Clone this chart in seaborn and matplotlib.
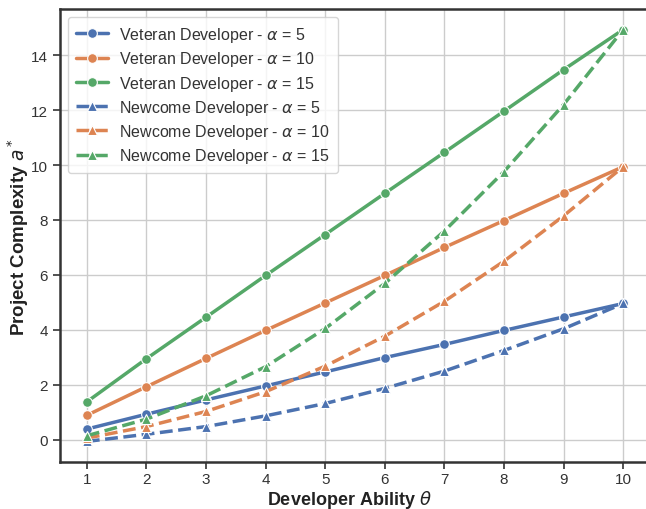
import matplotlib
matplotlib.use("Agg")
import matplotlib.pyplot as plt
import seaborn as sns
import pandas as pd

# Developer ability levels
theta = [1, 2, 3, 4, 5, 6, 7, 8, 9, 10]
alphas = [5, 10, 15]

# Optimal project complexity for veteran developers
veteran_a5 = [0.39, 0.93, 1.45, 1.96, 2.47, 2.99, 3.47, 3.98, 4.47, 4.96]
veteran_a10 = [0.89, 1.93, 2.96, 3.98, 4.98, 5.98, 7.00, 7.98, 8.97, 9.94]
veteran_a15 = [1.38, 2.95, 4.46, 5.98, 7.47, 8.97, 10.46, 11.96, 13.47, 14.93]

# Optimal project complexity for newcome developers
newcome_a5 = [-0.06, 0.20, 0.48, 0.87, 1.32, 1.87, 2.50, 3.25, 4.04, 4.96]
newcome_a10 = [0.06, 0.48, 1.03, 1.75, 2.68, 3.77, 5.04, 6.50, 8.15, 9.94]
newcome_a15 = [0.145, 0.75, 1.60, 2.66, 4.05, 5.69, 7.60, 9.76, 12.20, 14.93]

sns.set_theme(style="whitegrid")
plt.rcParams["font.family"] = ["Liberation Sans", "DejaVu Sans"]
plt.rcParams["mathtext.fontset"] = "dejavusans"

palette = sns.color_palette("deep")
colors = [palette[0], palette[1], palette[2]]

fig = plt.figure(figsize=(6.46, 5.10), dpi=100)
ax = fig.add_axes([60 / 646, 1 - 463 / 510, 590 / 646, 453 / 510])

veteran = [veteran_a5, veteran_a10, veteran_a15]
newcome = [newcome_a5, newcome_a10, newcome_a15]

for alpha, vals, c in zip(alphas, veteran, colors):
    df = pd.DataFrame({"theta": theta, "a": vals})
    sns.lineplot(data=df, x="theta", y="a", ax=ax, color=c, marker="o",
                 markersize=7, linewidth=2.5, markeredgecolor="white",
                 markeredgewidth=0.8,
                 label=rf"Veteran Developer - $\alpha$ = {alpha}")

for alpha, vals, c in zip(alphas, newcome, colors):
    df = pd.DataFrame({"theta": theta, "a": vals})
    sns.lineplot(data=df, x="theta", y="a", ax=ax, color=c, marker="^",
                 markersize=7, linewidth=2.5, linestyle="--",
                 markeredgecolor="white", markeredgewidth=0.8,
                 label=rf"Newcome Developer - $\alpha$ = {alpha}")

ax.set_xticks(theta)
ax.set_yticks([0, 2, 4, 6, 8, 10, 12, 14])
ax.tick_params(axis="both", which="major", labelsize=11, length=5,
               width=1.2, color="#333333", labelcolor="#333333",
               left=True, bottom=True)
ax.tick_params(axis="x", pad=2)

for side in ["left", "bottom", "top", "right"]:
    ax.spines[side].set_color("#333333")
    ax.spines[side].set_linewidth(1.8)

ax.set_xlabel(r"Developer Ability $\theta$", fontsize=13, fontweight="bold",
              color="#222222")
ax.xaxis.set_label_coords(0.49, -0.058)
ax.set_ylabel(r"Project Complexity $a^*$", fontsize=13.5, fontweight="bold",
              color="#222222", labelpad=0)

leg = ax.legend(loc="upper left", fontsize=11.5, frameon=True,
                handlelength=2.0, handletextpad=0.7, borderpad=0.5,
                labelspacing=0.33)
for t in leg.get_texts():
    t.set_color("#333333")

fig.savefig("out.png", dpi=100)
